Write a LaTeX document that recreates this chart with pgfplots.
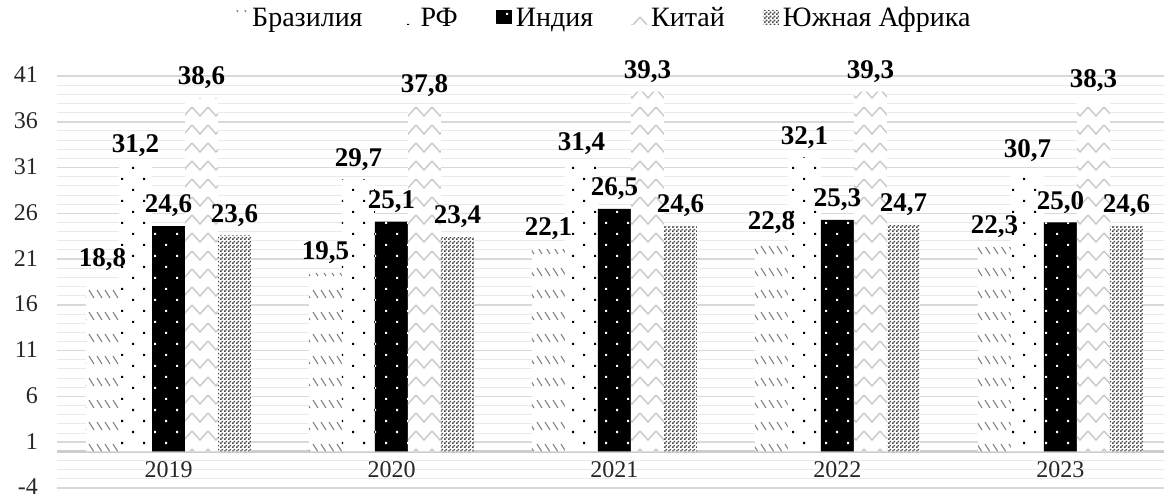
\documentclass[border=0pt]{standalone}
\usepackage{fontspec}
\setmainfont{Liberation Serif}
\usepackage{pgfplots}
\pgfplotsset{compat=1.18}
\usetikzlibrary{patterns}

% bar fills (Excel-like pattern fills)
\pgfdeclarepatternformonly{brdash}{\pgfqpoint{-1pt}{-1pt}}{\pgfqpoint{5pt}{12pt}}{\pgfqpoint{4pt}{11pt}}{
  \pgfsetlinewidth{0.55pt}
  \pgfpathmoveto{\pgfqpoint{0.5pt}{5.5pt}}
  \pgfpathlineto{\pgfqpoint{3pt}{1.5pt}}
  \pgfusepath{stroke}
}
\pgfdeclarepatternformonly{dotlat}{\pgfqpoint{-1pt}{-1pt}}{\pgfqpoint{12pt}{12pt}}{\pgfqpoint{11pt}{11pt}}{
  \pgfpathrectangle{\pgfqpoint{0pt}{0pt}}{\pgfqpoint{1.1pt}{1.1pt}}
  \pgfpathrectangle{\pgfqpoint{5.5pt}{5.5pt}}{\pgfqpoint{1.1pt}{1.1pt}}
  \pgfusepath{fill}
}
\pgfdeclarepatternformonly{chev}{\pgfqpoint{-1pt}{-1pt}}{\pgfqpoint{9pt}{10pt}}{\pgfqpoint{8pt}{9pt}}{
  \pgfsetlinewidth{0.7pt}
  \pgfpathmoveto{\pgfqpoint{0pt}{7pt}}
  \pgfpathlineto{\pgfqpoint{4pt}{2.5pt}}
  \pgfpathlineto{\pgfqpoint{8pt}{7pt}}
  \pgfusepath{stroke}
}
\pgfdeclarepatternformonly{checker}{\pgfqpoint{0pt}{0pt}}{\pgfqpoint{2pt}{2pt}}{\pgfqpoint{2pt}{2pt}}{
  \pgfpathrectangle{\pgfqpoint{0pt}{0pt}}{\pgfqpoint{1pt}{1pt}}
  \pgfpathrectangle{\pgfqpoint{1pt}{1pt}}{\pgfqpoint{1pt}{1pt}}
  \pgfusepath{fill}
}

\definecolor{majgrid}{RGB}{217,217,217}
\definecolor{mingrid}{RGB}{234,234,234}
\definecolor{zeroline}{RGB}{205,205,205}
\definecolor{chevgray}{RGB}{200,200,200}
\definecolor{checkgray}{RGB}{72,72,72}

\newcommand{\tickfont}{\fontsize{12}{14}\selectfont}

\begin{document}
\begin{tikzpicture}
\begin{axis}[
  at={(0,0)}, anchor=south west,
  scale only axis, width=557.5pt, height=206pt,
  ybar=0pt, bar width=16.5pt,
  xmin=-0.5, xmax=4.5, ymin=-4, ymax=41,
  xtick={0,...,4},
  xticklabels={{\tickfont 2019},{\tickfont 2020},{\tickfont 2021},{\tickfont 2022},{\tickfont 2023}},
  ytick={-4,1,...,41},
  yticklabel={\tickfont\pgfmathprintnumber[assume math mode=true]{\tick}},
  minor y tick num=4,
  ymajorgrids, yminorgrids,
  major grid style={draw=majgrid, line width=0.8pt},
  minor grid style={draw=mingrid, line width=0.5pt},
  extra y ticks={0}, extra y tick labels={},
  extra y tick style={grid=major, major grid style={draw=zeroline, line width=1.2pt}},
  axis line style={draw=none},
  major tick length=0pt, minor tick length=0pt,
  xticklabel style={text=black!85, anchor=center, yshift=9pt},
  yticklabel style={text=black!85, anchor=east, xshift=-6pt, yshift=0.5pt},
  clip=false,
  nodes near coords={\pgfmathprintnumber[fixed,fixed zerofill,precision=1,use comma,assume math mode=true]{\pgfplotspointmeta}},
  every node near coord/.append style={font=\fontsize{13.5}{15}\selectfont\bfseries, text=black, yshift=1pt},
  legend columns=5,
  legend style={at={(0.49,1.14)}, anchor=center, draw=none, fill=none,
    font=\fontsize{14}{16}\selectfont,
    /tikz/every even column/.append style={column sep=17pt}},
  legend image code/.code={\path[#1, draw=none] (0pt,-3pt) rectangle (8pt,4pt);},
]
% Бразилия
\addplot[draw=none, fill=white, postaction={pattern=brdash, pattern color=gray}]
  coordinates {(0,18.8) (1,19.5) (2,22.1) (3,22.8) (4,22.3)};
% РФ
\addplot[draw=none, fill=white, postaction={pattern=dotlat, pattern color=black}]
  coordinates {(0,31.2) (1,29.7) (2,31.4) (3,32.1) (4,30.7)};
% Индия
\addplot[draw=none, fill=black, postaction={pattern=dotlat, pattern color=white}]
  coordinates {(0,24.6) (1,25.1) (2,26.5) (3,25.3) (4,25.0)};
% Китай
\addplot[draw=none, fill=white, postaction={pattern=chev, pattern color=chevgray}]
  coordinates {(0,38.6) (1,37.8) (2,39.3) (3,39.3) (4,38.3)};
% Южная Африка
\addplot[draw=none, fill=white, postaction={pattern=checker, pattern color=checkgray}]
  coordinates {(0,23.6) (1,23.4) (2,24.6) (3,24.7) (4,24.6)};
\legend{Бразилия, РФ, Индия, Китай, Южная Африка}
\end{axis}
\pgfresetboundingbox
\path[use as bounding box] (-28.5pt,-5.5pt) rectangle (553.5pt,244pt);
\end{tikzpicture}
\end{document}
